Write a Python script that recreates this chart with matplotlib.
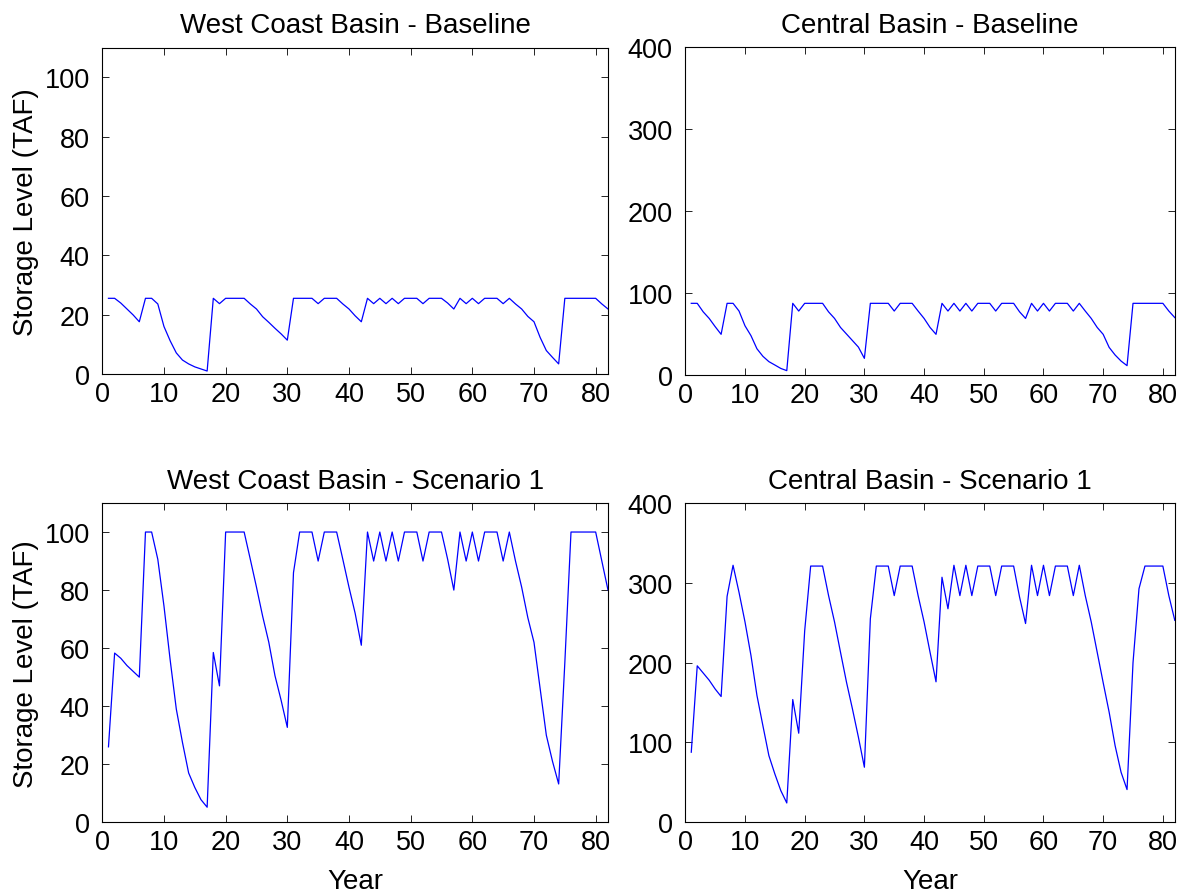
import numpy as np
import matplotlib
matplotlib.use("Agg")
import matplotlib.pyplot as plt

plt.rcParams["font.family"] = ["Liberation Sans", "DejaVu Sans"]

years = np.arange(1, 83)

# West Coast Basin storage (TAF)
wc_baseline = [
    25.5, 25.5, 23.9, 21.9, 19.9, 17.6, 25.5, 25.5, 23.6, 16.0,
    11.2, 7.1, 4.7, 3.4, 2.4, 1.7, 1.0, 25.5, 23.7, 25.5,
    25.5, 25.5, 25.5, 23.6, 21.9, 19.3, 17.4, 15.4, 13.5, 11.4,
    25.5, 25.5, 25.5, 25.5, 23.7, 25.5, 25.5, 25.5, 23.6, 21.9,
    19.6, 17.6, 25.5, 23.7, 25.5, 23.7, 25.5, 23.7, 25.5, 25.5,
    25.5, 23.7, 25.5, 25.5, 25.5, 23.9, 21.9, 25.5, 23.7, 25.5,
    23.7, 25.5, 25.5, 25.5, 23.7, 25.5, 23.6, 21.9, 19.4, 17.6,
    12.3, 7.9, 5.6, 3.4, 25.5, 25.5, 25.5, 25.5, 25.5, 25.5,
    23.6, 21.9,
]
wc_scenario1 = [
    26, 58.3, 56.5, 54, 52, 50, 100, 100, 90.6, 74.5,
    56, 39, 27.5, 17, 12, 7.8, 5.2, 58.5, 47, 100,
    100, 100, 100, 90.6, 81, 71, 62, 50.5, 42, 32.7,
    86, 100, 100, 100, 90, 100, 100, 100, 90.6, 81,
    72, 61, 100, 90, 100, 90, 100, 90, 100, 100,
    100, 90, 100, 100, 100, 90.6, 80, 100, 90, 100,
    90, 100, 100, 100, 90, 100, 90, 81, 70.5, 62,
    46, 30, 21, 13.2, 55, 100, 100, 100, 100, 100,
    90, 80,
]

# Central Basin storage (TAF)
cb_baseline = [
    87.4, 87.4, 77, 69, 59, 49.6, 87.4, 87.4, 78, 60,
    48, 32, 22.8, 16.3, 12.2, 8, 5.3, 87.4, 78, 87.4,
    87.4, 87.4, 87.4, 77, 69, 58, 50, 42, 34, 20.3,
    87.4, 87.4, 87.4, 87.4, 78, 87.4, 87.4, 87.4, 78, 69,
    58, 49.6, 87.4, 78, 87.4, 78, 87.4, 78, 87.4, 87.4,
    87.4, 78, 87.4, 87.4, 87.4, 77, 69, 87.4, 78, 87.4,
    78, 87.4, 87.4, 87.4, 78, 87.4, 78, 69, 58, 49.6,
    33.7, 24.4, 17, 11.4, 87.4, 87.4, 87.4, 87.4, 87.4, 87.4,
    78, 70,
]
cb_scenario1 = [
    87.8, 196, 187, 178, 167, 157.6, 283, 322, 288, 251,
    209, 159, 121, 83.6, 60.6, 39.7, 24.2, 153.8, 111.6, 240,
    321, 321, 321, 284, 251, 213, 175.6, 142, 106.6, 69,
    255, 321, 321, 321, 284, 321, 321, 321, 284, 251,
    213, 176, 307, 267.5, 322, 284, 322, 284, 321, 321,
    321, 284, 321, 321, 321, 282, 249, 322, 284, 322,
    284, 321, 321, 321, 284, 322, 284, 251, 213, 175,
    138, 96, 62.7, 41, 200, 292.6, 321, 321, 321, 321,
    284, 253,
]

W, H = 1184, 895
fig = plt.figure(figsize=(W / 100, H / 100), dpi=100)

# axes boxes in pixels: left, top, right, bottom
boxes = [
    (102.3, 48.5, 608, 375),
    (685.3, 48, 1174.8, 376),
    (102.3, 504, 608, 823.3),
    (685.3, 504, 1174.8, 823.3),
]
panels = [
    ("West Coast Basin - Baseline", wc_baseline, 110, np.arange(0, 101, 20)),
    ("Central Basin - Baseline", cb_baseline, 400, np.arange(0, 401, 100)),
    ("West Coast Basin - Scenario 1", wc_scenario1, 110, np.arange(0, 101, 20)),
    ("Central Basin - Scenario 1", cb_scenario1, 400, np.arange(0, 401, 100)),
]

fs = 20
for i, ((l, t, r, b), (title, vals, ymax, yt)) in enumerate(zip(boxes, panels)):
    ax = fig.add_axes([l / W, 1 - b / H, (r - l) / W, (b - t) / H])
    ax.plot(years, vals, color="#0000ff", linewidth=0.9)
    ax.set_xlim(0, 82)
    ax.set_ylim(0, ymax)
    ax.set_xticks(np.arange(0, 81, 10))
    ax.set_yticks(yt)
    ax.tick_params(direction="in", top=True, right=True, length=5, width=0.6,
                   labelsize=19.5)
    ax.tick_params(axis="y", pad=9)
    ax.tick_params(axis="x", pad=5)
    for s in ax.spines.values():
        s.set_linewidth(0.8)
    ax.set_title(title, fontsize=fs, pad=11)
    if i % 2 == 0:
        ax.set_ylabel("Storage Level (TAF)", fontsize=fs, labelpad=4)
    if i >= 2:
        ax.set_xlabel("Year", fontsize=fs, labelpad=9)

fig.savefig("out.png", dpi=100)
